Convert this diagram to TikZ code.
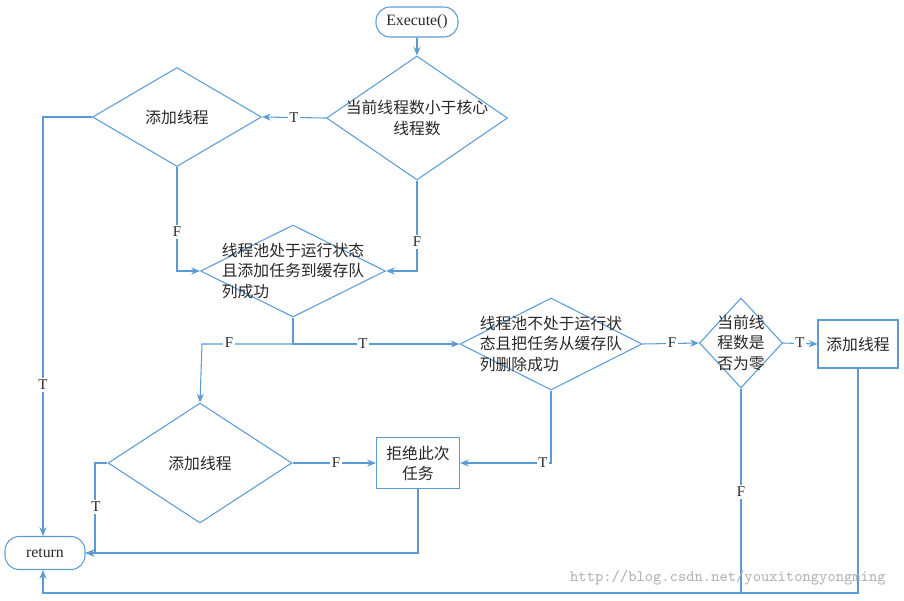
\documentclass[tikz,border=0pt]{standalone}
\usepackage{fontspec}
\setmainfont{Liberation Serif}
\newfontfamily\cjk{Noto Sans CJK SC}
\usetikzlibrary{shapes.geometric,arrows.meta}
\definecolor{flow}{RGB}{91,155,213}
\definecolor{ink}{RGB}{40,40,40}
\tikzset{
  dia/.style={draw=flow,diamond,inner sep=0pt,minimum width=#1},
  txt/.style={text=ink,font=\cjk\fontsize{9}{11.5}\selectfont,align=left,inner sep=0pt},
  box/.style={draw=flow,fill=white,text=ink,font=\cjk\fontsize{9}{11.5}\selectfont,align=center},
  term/.style={draw=flow,rounded corners=8pt,text=ink,font=\fontsize{9}{11}\selectfont},
  lab/.style={fill=white,text=ink,font=\fontsize{8.5}{10}\selectfont,inner sep=1pt},
  line/.style={draw=flow,-{Stealth[length=5pt,width=4pt]}}
}
\begin{document}
\begin{tikzpicture}[x=0.02cm,y=-0.02cm,line width=0.6pt]
\useasboundingbox (0,0) rectangle (904,600);
% terminals
\node[term,minimum width=1.64cm,minimum height=0.6cm] (exe) at (417,22) {Execute()};
\node[term,minimum width=1.6cm,minimum height=0.66cm] (ret) at (45,553) {return};
% decisions
\node[dia=3.62cm,minimum height=2.48cm] (core) at (417,118) {};
\node[txt,align=center] at (core.center) {当前线程数小于核心\\线程数};
\node[dia=3.38cm,minimum height=1.98cm] (addA) at (177,117) {};
\node[txt] at (addA.center) {添加线程};
\node[dia=3.7cm,minimum height=1.84cm] (run) at (293,271) {};
\node[txt] at (run.center) {线程池处于运行状态\\且添加任务到缓存队\\列成功};
\node[dia=3.64cm,minimum height=1.84cm] (rem) at (551,344) {};
\node[txt] at (rem.center) {线程池不处于运行状\\态且把任务从缓存队\\列删除成功};
\node[dia=1.66cm,minimum height=1.8cm] (zero) at (741,343) {};
\node[txt,align=center] at (zero.center) {当前线\\程数是\\否为零};
\node[dia=3.68cm,minimum height=2.4cm] (addB) at (200,463) {};
\node[txt] at (addB.center) {添加线程};
% boxes
\node[box,minimum width=1.6cm,minimum height=0.96cm] (addC) at (858,344) {添加线程};
\node[box,minimum width=1.66cm,minimum height=1.02cm] (rej) at (418,463) {拒绝此次\\任务};
% connectors
\draw[line] (exe) -- (core.north);
\draw[line] (core.west) -- node[lab]{T} (addA.east);
\draw[line] (core.south) -- (417,271) -- (run.east);
\node[lab] at (417,242) {F};
\draw[line] (addA.south) -- (177,271) -- (run.west);
\node[lab] at (177,232) {F};
\draw[line] (addA.west) -- (43,117) -- (ret.north -| 43,0);
\node[lab] at (43,385) {T};
\draw[line] (run.south) -- (293,344) -- (rem.west);
\node[lab] at (363,344) {T};
\draw[line] (293,344) -- (202,344) -- (addB.north);
\node[lab] at (229,343) {F};
\draw[line] (rem.east) -- (zero.west);
\node[lab] at (672,343) {F};
\draw[line] (zero.east) -- (addC.west);
\node[lab] at (800,343) {T};
\draw[line] (rem.south) -- (551,463) -- (rej.east);
\node[lab] at (543,463) {T};
\draw[line] (addB.east) -- (rej.west);
\node[lab] at (336,463) {F};
\draw[line] (addB.west) -- (95,463) -- (95,553) -- (ret.east);
\node[lab] at (96,507) {T};
\draw[line] (rej.south) -- (418,553) -- (ret.east);
\draw[line] (zero.south) -- (741,593) -- (43,593) -- (ret.south -| 43,0);
\node[lab] at (741,492) {F};
\draw[draw=flow] (addC.south) -- (858,593) -- (741,593);
% watermark
\node[text=black!30,font=\ttfamily\fontsize{9}{10}\selectfont,anchor=east] at (892,578) {http://blog.csdn.net/youxitongyongming};
\end{tikzpicture}
\end{document}
